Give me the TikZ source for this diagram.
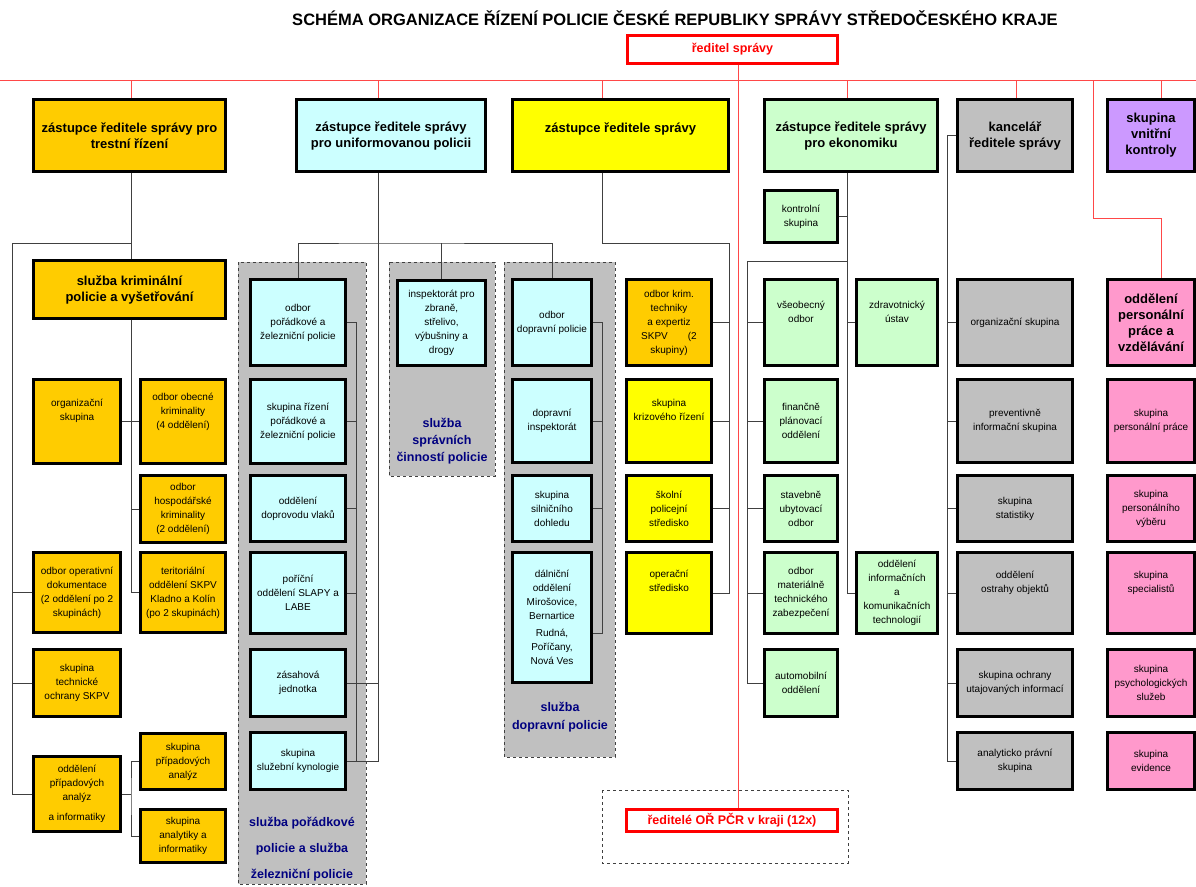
\documentclass[tikz,border=0pt]{standalone}
\usepackage{fontspec}
\setmainfont{Liberation Sans}
\usetikzlibrary{calc}
\definecolor{krim}{HTML}{FFCC00}
\definecolor{unif}{HTML}{CCFFFF}
\definecolor{zlut}{HTML}{FFFF00}
\definecolor{ekon}{HTML}{CCFFCC}
\definecolor{sedy}{HTML}{C0C0C0}
\definecolor{fial}{HTML}{CC99FF}
\definecolor{ruzo}{HTML}{FF99CC}
\definecolor{modra}{HTML}{000080}
\definecolor{cara}{HTML}{404040}
\definecolor{cerv}{HTML}{FF4848}

\begin{document}
\begin{tikzpicture}[x=1pt,y=-1pt,
  wd/.style={minimum width=#1},
  ht/.style={minimum height=#1},
  box/.style={draw=black,line width=2.3pt,inner sep=1pt,align=center,font=\fontsize{10}{14}\selectfont},
  head/.style={box,font=\fontsize{13}{16}\selectfont\bfseries},
  boss/.style={draw=red,line width=2.3pt,fill=white,text=red,inner sep=1pt,font=\fontsize{12.5}{15}\selectfont\bfseries},
  zone/.style={draw=cara,dashed,line width=0.8pt,fill=sedy},
  zlabel/.style={text=modra,align=center,inner sep=0pt,font=\fontsize{12.5}{17}\selectfont\bfseries},
  wire/.style={draw=cara,line width=0.8pt},
  redwire/.style={draw=cerv,line width=1pt}]
  \useasboundingbox (0,0) rectangle (1196,886);

  \draw (675,18) node (t) [font=\fontsize{16.5}{20}\selectfont\bfseries] {SCHÉMA ORGANIZACE ŘÍZENÍ POLICIE ČESKÉ REPUBLIKY SPRÁVY STŘEDOČESKÉHO KRAJE};

  % dashed service areas
  \draw[zone] (238,262) rectangle (366,884);
  \draw[zone] (389,262) rectangle (495,476);
  \draw[zone] (504,262) rectangle (615,757);
  \draw[zone,fill=white] (602,790) rectangle (848,863);

  \draw (732.5,49.5) node (00) [boss,wd=210,ht=28] {ředitel správy};
  \draw (732,820.5) node (09) [boss,wd=211,ht=22] {ředitelé OŘ PČR v kraji (12x)};

  % deputies
  \draw (129.5,135.5) node (10) [head,fill=krim,wd=192,ht=72] {zástupce ředitele správy pro\\trestní řízení};
  \draw (391,135.5) node (20) [head,fill=unif,wd=189,ht=72] {zástupce ředitele správy\\pro uniformovanou policii};
  \draw (620.5,135.5) node (40) [head,fill=zlut,wd=216,ht=72] {zástupce ředitele správy\\[-1pt]};
  \draw (851,135.5) node (50) [head,fill=ekon,wd=173,ht=72] {zástupce ředitele správy\\pro ekonomiku};
  \draw (1015,135.5) node (60) [head,fill=sedy,wd=115,ht=72] {kancelář\\ředitele správy};
  \draw (1151,135.5) node (70) [head,fill=fial,wd=87,ht=72] {skupina\\vnitřní\\kontroly};

  % trestni rizeni
  \draw (129.5,289.5) node (11) [head,fill=krim,wd=192,ht=58] {služba kriminální\\policie a vyšetřování};
  \draw (77,421.5) node (12) [box,fill=krim,wd=87,ht=84] {organizační\\skupina\\[10pt]};
  \draw (183,421.5) node (13) [box,fill=krim,wd=85,ht=84] {odbor obecné\\kriminality\\(4 oddělení)\\[8pt]};
  \draw (183,509) node (14) [box,fill=krim,wd=85,ht=67] {odbor\\hospodářské\\kriminality\\(2 oddělení)};
  \draw (77,592.5) node (15) [box,fill=krim,wd=87,ht=80] {odbor operativní\\dokumentace\\(2 oddělení po 2\\skupinách)};
  \draw (183,592.5) node (16) [box,fill=krim,wd=85,ht=80] {teritoriální\\oddělení SKPV\\Kladno a Kolín\\(po 2 skupinách)};
  \draw (77,683) node (17) [box,fill=krim,wd=87,ht=67] {skupina\\technické\\ochrany SKPV};
  \draw (77,794) node (18) [box,fill=krim,wd=87,ht=75] {oddělení\\případových\\analýz\\[6pt]a informatiky};
  \draw (183,761.5) node (19) [box,fill=krim,wd=85,ht=56] {skupina\\případových\\analýz};
  \draw (183,836) node (1a) [box,fill=krim,wd=85,ht=53] {skupina\\analytiky a\\informatiky};

  % uniformovana policie
  \draw (298,322.5) node (21) [box,fill=unif,wd=95,ht=86] {odbor\\pořádkové a\\železniční policie};
  \draw (298,421.5) node (22) [box,fill=unif,wd=95,ht=84] {skupina řízení\\pořádkové a\\železniční policie};
  \draw (298,508.5) node (23) [box,fill=unif,wd=95,ht=66] {oddělení\\doprovodu vlaků};
  \draw (298,593) node (24) [box,fill=unif,wd=95,ht=81] {poříční\\oddělení SLAPY a\\LABE};
  \draw (298,683) node (25) [box,fill=unif,wd=95,ht=67] {zásahová\\jednotka};
  \draw (298,761) node (26) [box,fill=unif,wd=95,ht=57] {skupina\\služební kynologie};
  \draw (302,849) node (p1) [zlabel,font=\fontsize{12.5}{26}\selectfont\bfseries] {služba pořádkové\\policie a služba\\železniční policie};

  \draw (441.5,323) node (31) [box,fill=unif,wd=88,ht=85] {inspektorát pro\\zbraně,\\střelivo,\\výbušniny a\\drogy};
  \draw (442,441) node (p2) [zlabel] {služba\\správních\\činností policie};

  \draw (552,322.5) node (41) [box,fill=unif,wd=79,ht=86] {odbor\\dopravní policie};
  \draw (552,421) node (42) [box,fill=unif,wd=79,ht=83] {dopravní\\inspektorát};
  \draw (552,508.5) node (43) [box,fill=unif,wd=79,ht=66] {skupina\\silničního\\dohledu};
  \draw (552,617.5) node (44) [box,fill=unif,wd=79,ht=130] {dálniční\\oddělení\\Mirošovice,\\Bernartice\\[3pt]Rudná,\\Poříčany,\\Nová Ves};
  \draw (560,717) node (p3) [zlabel,font=\fontsize{12.5}{18}\selectfont\bfseries] {služba\\dopravní policie};

  % zastupce reditele spravy
  \draw (669,322.5) node (45) [box,fill=krim,wd=85,ht=86] {odbor krim.\\techniky\\a expertiz\\SKPV\hspace{2em}(2\\skupiny)};
  \draw (669,421) node (46) [box,fill=zlut,wd=85,ht=83] {skupina\\krizového řízení\\[8pt]};
  \draw (669,508.5) node (47) [box,fill=zlut,wd=85,ht=66] {školní\\policejní\\středisko};
  \draw (669,593) node (48) [box,fill=zlut,wd=85,ht=81] {operační\\středisko\\[10pt]};

  % ekonomika
  \draw (801,216.5) node (51) [box,fill=ekon,wd=73,ht=52] {kontrolní\\skupina};
  \draw (801,322.5) node (52) [box,fill=ekon,wd=73,ht=86] {všeobecný\\odbor\\[8pt]};
  \draw (801,421) node (53) [box,fill=ekon,wd=73,ht=83] {finančně\\plánovací\\oddělení};
  \draw (801,508.5) node (54) [box,fill=ekon,wd=73,ht=66] {stavebně\\ubytovací\\odbor};
  \draw (801,593) node (55) [box,fill=ekon,wd=73,ht=81] {odbor\\materiálně\\technického\\zabezpečení};
  \draw (801,683) node (56) [box,fill=ekon,wd=73,ht=67] {automobilní\\oddělení};
  \draw (897,322.5) node (57) [box,fill=ekon,wd=81,ht=86] {zdravotnický\\ústav\\[8pt]};
  \draw (897,593) node (58) [box,fill=ekon,wd=81,ht=81] {oddělení\\informačních\\a\\komunikačních\\technologií};

  % kancelar
  \draw (1015,322.5) node (61) [box,fill=sedy,wd=115,ht=86] {organizační skupina};
  \draw (1015,421) node (62) [box,fill=sedy,wd=115,ht=83] {preventivně\\informační skupina};
  \draw (1015,508.5) node (63) [box,fill=sedy,wd=115,ht=66] {skupina\\statistiky};
  \draw (1015,593) node (64) [box,fill=sedy,wd=115,ht=81] {oddělení\\ostrahy objektů\\[8pt]};
  \draw (1015,683) node (65) [box,fill=sedy,wd=115,ht=67] {skupina ochrany\\utajovaných informací};
  \draw (1015,761) node (66) [box,fill=sedy,wd=115,ht=57] {analyticko právní\\skupina};

  % personalni
  \draw (1151,322.5) node (71) [head,fill=ruzo,wd=87,ht=86] {oddělení\\personální\\práce a\\vzdělávání};
  \draw (1151,421) node (72) [box,fill=ruzo,wd=87,ht=83] {skupina\\personální práce};
  \draw (1151,508.5) node (73) [box,fill=ruzo,wd=87,ht=66] {skupina\\personálního\\výběru};
  \draw (1151,593) node (74) [box,fill=ruzo,wd=87,ht=81] {skupina\\specialistů\\[8pt]};
  \draw (1151,683) node (75) [box,fill=ruzo,wd=87,ht=67] {skupina\\psychologických\\služeb};
  \draw (1151,761) node (76) [box,fill=ruzo,wd=87,ht=57] {skupina\\evidence};

  % red lines
  \coordinate (rl) at (0,80);
  \coordinate (rr) at (1196,80);
  \coordinate (r0) at (738,80);
  \coordinate (r1) at (131,80);
  \coordinate (r2) at (378,80);
  \coordinate (r4) at (602,80);
  \coordinate (r5) at (847,80);
  \coordinate (r6) at (1016,80);
  \coordinate (r7) at (1161,80);
  \coordinate (r8) at (1093,80);
  \coordinate (r9) at (1093,218);
  \draw[redwire] (rl) -- (rr);
  \draw[redwire] (r0 |- 00.south) -- (r0 |- 09.north);
  \draw[redwire] (r1) -- (r1 |- 10.north);
  \draw[redwire] (r2) -- (r2 |- 20.north);
  \draw[redwire] (r4) -- (r4 |- 40.north);
  \draw[redwire] (r5) -- (r5 |- 50.north);
  \draw[redwire] (r6) -- (r6 |- 60.north);
  \draw[redwire] (r7) -- (r7 |- 70.north);
  \draw[redwire] (r8) -- (r9) -| (r7 |- 71.north);

  % trestni rizeni
  \coordinate (l1) at (12,243);
  \draw[wire] (r1 |- 10.south) -- (r1 |- 11.north);
  \draw[wire] (r1 |- l1) -- (l1) |- (18.west);
  \draw[wire] (l1) |- (15.west);
  \draw[wire] (l1) |- (17.west);
  \draw[wire] (r1 |- 11.south) |- (16.west);
  \draw[wire] (12.east) -- (13.west);
  \draw[wire] (14.west) -- (r1 |- 14.west);
  \draw[wire] (18.east) -- (r1 |- 18.east);
  \draw[wire] (19.west) -| (r1 |- 18.east) |- (1a.west);

  % uniformovana policie
  \coordinate (h2) at (378,243);
  \coordinate (b2) at (356,0);
  \draw[wire] (r2 |- 20.south) -- (r2 |- 26.east) -- (26.east);
  \draw[wire] (25.east) -- (r2 |- 25.east);
  \draw[wire] (21.east) -| (b2 |- 26.east);
  \draw[wire] (22.east) -- (b2 |- 22.east);
  \draw[wire] (23.east) -- (b2 |- 23.east);
  \draw[wire] (24.east) -- (b2 |- 24.east);
  \draw[wire] (21.north) |- (h2) -| (41.north);
  \draw[wire] (31.north) -- (31.north |- h2);

  \coordinate (b3) at (602,0);
  \coordinate (e44) at ($(44.east)+(0,16)$);
  \draw[wire] (41.east) -| (b3 |- e44) -- (e44);
  \draw[wire] (42.east) -- (b3 |- 42.east);
  \draw[wire] (43.east) -- (b3 |- 43.east);

  % zastupce reditele spravy
  \coordinate (h4) at (729,243);
  \draw[wire] (r4 |- 40.south) |- (h4) |- (48.east);
  \draw[wire] (45.east) -- (h4 |- 45.east);
  \draw[wire] (46.east) -- (h4 |- 46.east);
  \draw[wire] (47.east) -- (h4 |- 47.east);

  % ekonomika
  \coordinate (h5) at (747,261);
  \draw[wire] (r5 |- 50.south) |- (58.west);
  \draw[wire] (51.east) -- (r5 |- 51.east);
  \draw[wire] (57.west) -- (r5 |- 57.west);
  \draw[wire] (r5 |- h5) -- (h5) |- (56.west);
  \draw[wire] (52.west) -- (h5 |- 52.west);
  \draw[wire] (53.west) -- (h5 |- 53.west);
  \draw[wire] (54.west) -- (h5 |- 54.west);
  \draw[wire] (55.west) -- (h5 |- 55.west);

  % kancelar
  \coordinate (b6) at (947,0);
  \draw[wire] (60.west) -| (b6 |- 66.west) -- (66.west);
  \draw[wire] (61.west) -- (b6 |- 61.west);
  \draw[wire] (62.west) -- (b6 |- 62.west);
  \draw[wire] (63.west) -- (b6 |- 63.west);
  \draw[wire] (64.west) -- (b6 |- 64.west);
  \draw[wire] (65.west) -- (b6 |- 65.west);
\end{tikzpicture}
\end{document}
